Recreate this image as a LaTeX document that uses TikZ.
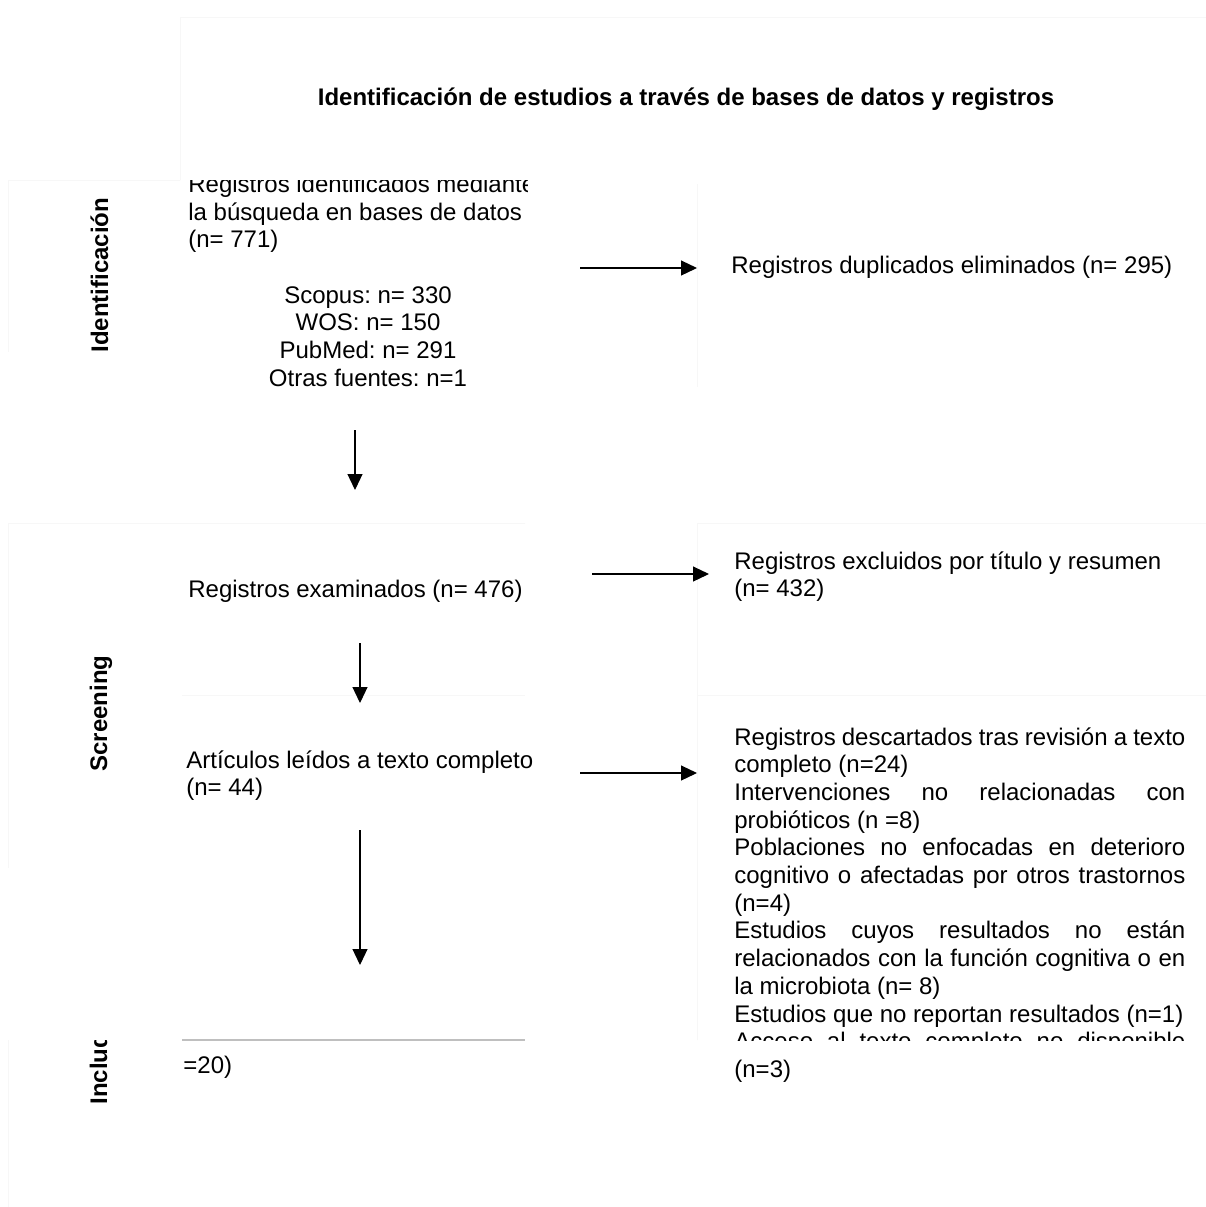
\documentclass[tikz,border=0pt]{standalone}
\usepackage{fontspec}
\setmainfont{Liberation Sans}
\usetikzlibrary{arrows.meta}
\frenchspacing
\newcommand\myfs{\fontsize{12pt}{13.85pt}\selectfont\frenchspacing}
\newcommand\jline[1]{\makebox[225.5pt][s]{#1}}
\begin{document}
\begin{tikzpicture}[x=0.5pt,y=-0.5pt,
  txt/.style={inner sep=0pt, anchor=base west, font=\myfs},
  ctxt/.style={inner sep=0pt, anchor=base, font=\myfs},
  lbl/.style={inner sep=0pt, anchor=base west, font=\myfs\bfseries, rotate=90},
  faint/.style={draw=black!3, line width=0.5pt},
  flow/.style={-{Triangle[length=8pt,width=7.5pt]}, line width=0.6pt},
]
\useasboundingbox (0,0) rectangle (1206,1207);
\fill[white] (0,0) rectangle (1206,1207);

% faint box edges
\draw[faint] (180,180) -- (180,17) -- (1206,17);
\draw[faint] (180,180) -- (8,180) -- (8,352);
\draw[faint] (697,184) -- (697,387);
\draw[faint] (525,523) -- (8,523) -- (8,868);
\draw[faint] (697,1040) -- (697,523) -- (1206,523);
\draw[faint] (182,695) -- (525,695);
\draw[faint] (697,695) -- (1206,695);
\draw[faint] (8,1040) -- (8,1207);
\draw[black!25, line width=0.6pt] (182,1040) -- (525,1040);

% title
\node[ctxt, font=\myfs\bfseries] (title) at (686,105) {Identificación de estudios a través de bases de datos y registros};

% phase labels
\node[lbl] (lid) at (108,353) {Identificación};
\node[lbl] (lscr) at (107,772) {Screening};
\begin{scope}
\clip (0,1040) rectangle (180,1207);
\node[lbl] (linc) at (107,1105) {Included};
\end{scope}

% identification
\begin{scope}
\clip (180,180) rectangle (527,400);
\node[txt] (id1) at (188,192.3) {Registros identificados mediante};
\node[txt] (id2) at (188,220) {la búsqueda en bases de datos};
\node[txt] (id3) at (188,247.7) {(n= 771)};
\end{scope}
\node[ctxt] (s1) at (368,303.1) {Scopus: n= 330};
\node[ctxt] (s2) at (368,330.8) {WOS: n= 150};
\node[ctxt] (s3) at (368,358.5) {PubMed: n= 291};
\node[ctxt] (s4) at (368,386.2) {Otras fuentes: n=1};
\node[txt] (dup) at (731,273) {Registros duplicados eliminados (n= 295)};

% screening
\node[txt] (exam) at (188,597) {Registros examinados (n= 476)};
\node[txt] (excl1) at (734,569) {Registros excluidos por título y resumen};
\node[txt] (excl2) at (734,596.7) {(n= 432)};
\node[txt] (full1) at (186,768) {Artículos leídos a texto completo};
\node[txt] (full2) at (186,795.7) {(n= 44)};

\node[txt] (r1) at (734,745) {\jline{Registros descartados tras revisión a texto}};
\node[txt] (r2) at (734,772.7) {completo (n=24)};
\node[txt] (r3) at (734,800.4) {\jline{Intervenciones no relacionadas con}};
\node[txt] (r4) at (734,828.1) {probióticos (n =8)};
\node[txt] (r5) at (734,855.8) {\jline{Poblaciones no enfocadas en deterioro}};
\node[txt] (r6) at (734,883.5) {\jline{cognitivo o afectadas por otros trastornos}};
\node[txt] (r7) at (734,911.2) {(n=4)};
\node[txt] (r8) at (734,938.9) {\jline{Estudios cuyos resultados no están}};
\node[txt] (r9) at (734,966.6) {\jline{relacionados con la función cognitiva o en}};
\node[txt] (r10) at (734,994.3) {la microbiota (n= 8)};
\node[txt] (r11) at (734,1022) {Estudios que no reportan resultados (n=1)};
\begin{scope}
\clip (700,990) rectangle (1206,1040);
\node[txt] (r12) at (734,1049.7) {\jline{Acceso al texto completo no disponible}};
\end{scope}
\node[txt] (r13) at (734,1077.4) {(n=3)};

% included
\node[txt] (inc) at (183,1073) {=20)};

% connectors
\coordinate (a1s) at (580,268); \coordinate (a1e) at (697,268);
\coordinate (a2s) at (355,430); \coordinate (a2e) at (355,490);
\coordinate (a3s) at (592,574); \coordinate (a3e) at (709,574);
\coordinate (a4s) at (360,643); \coordinate (a4e) at (360,703);
\coordinate (a5s) at (580,773); \coordinate (a5e) at (697,773);
\coordinate (a6s) at (360,830); \coordinate (a6e) at (360,965);
\draw[flow] (a1s) -- (a1e);
\draw[flow] (a2s) -- (a2e);
\draw[flow] (a3s) -- (a3e);
\draw[flow] (a4s) -- (a4e);
\draw[flow] (a5s) -- (a5e);
\draw[flow] (a6s) -- (a6e);
\end{tikzpicture}
\end{document}
